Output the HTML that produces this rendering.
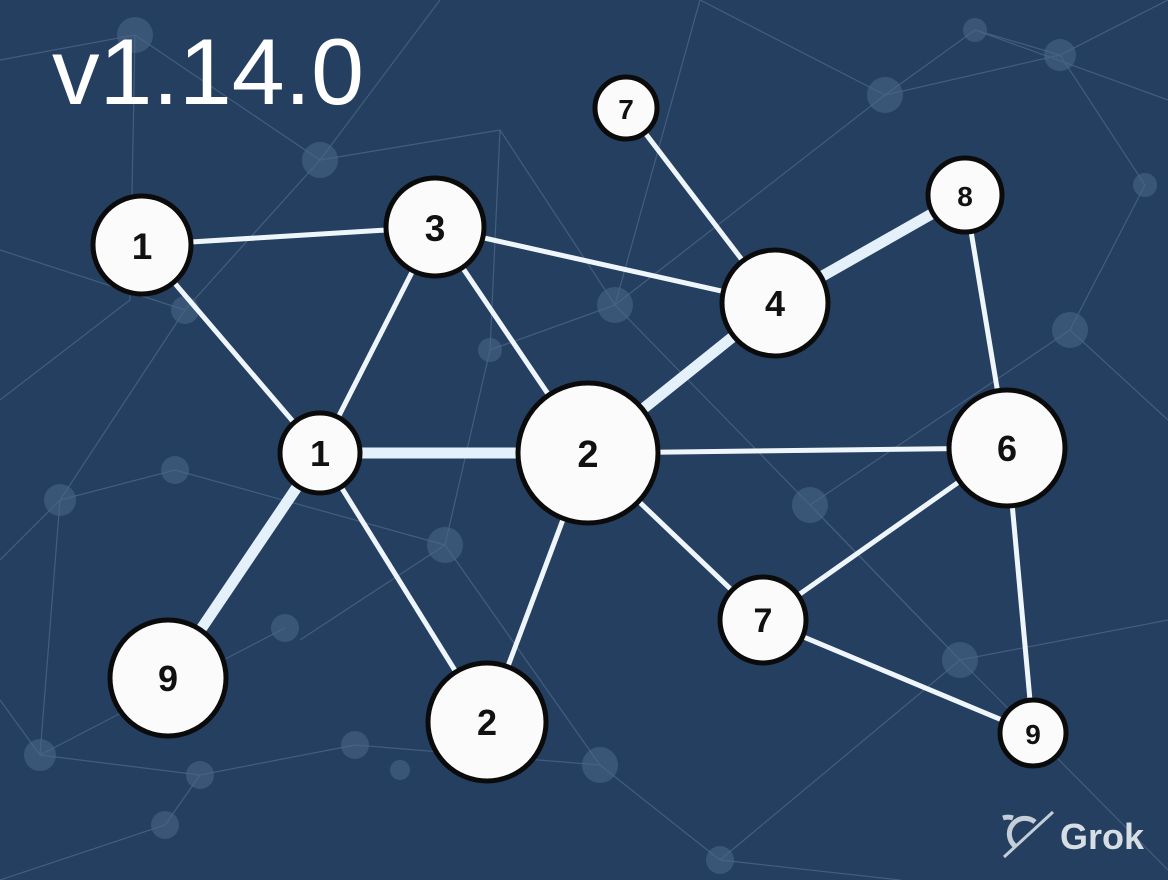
<!DOCTYPE html>
<html><head><meta charset="utf-8"><style>
html,body{margin:0;padding:0;width:1168px;height:880px;overflow:hidden;background:#223b5c}
svg{display:block}
</style></head><body>
<svg width="1168" height="880" viewBox="0 0 1168 880" xmlns="http://www.w3.org/2000/svg">
<rect width="1168" height="880" fill="#253f61"/>
<g stroke="#5a7696" stroke-width="1.2" opacity="0.55" fill="none">
<path d="M0 60 L135 35 L320 160 L440 0"/><path d="M135 35 L130 300 L0 400"/><path d="M320 160 L185 310 L60 500 L0 560"/>
<path d="M320 160 L500 130 L615 305 L700 0"/><path d="M615 305 L490 350 L445 545 L300 640"/><path d="M445 545 L175 470 L60 500"/>
<path d="M885 95 L1060 55 L1168 0"/><path d="M885 95 L975 30 L1168 100"/><path d="M885 95 L615 305"/><path d="M1060 55 L1145 185 L1070 330 L1168 420"/>
<path d="M1070 330 L810 505 L615 305"/><path d="M810 505 L960 660 L1168 620"/><path d="M960 660 L720 860"/><path d="M600 765 L445 545"/>
<path d="M600 765 L355 745 L200 775 L40 755 L0 700"/><path d="M200 775 L165 825 L0 880"/><path d="M600 765 L720 860 L900 880"/>
<path d="M60 500 L40 755"/><path d="M285 628 L40 755"/><path d="M960 660 L1168 870"/><path d="M810 505 L960 660"/><path d="M0 250 L185 310"/>
<path d="M700 0 L885 95"/><path d="M975 30 L1060 55"/><path d="M500 130 L490 350"/>
</g>
<g fill="#4a6586" opacity="0.6">
<circle cx="135" cy="35" r="18"/><circle cx="320" cy="160" r="18"/><circle cx="185" cy="310" r="14"/><circle cx="490" cy="350" r="12"/>
<circle cx="615" cy="305" r="18"/><circle cx="885" cy="95" r="18"/><circle cx="1060" cy="55" r="16"/><circle cx="975" cy="30" r="12"/>
<circle cx="1145" cy="185" r="12"/><circle cx="1070" cy="330" r="18"/><circle cx="810" cy="505" r="18"/><circle cx="445" cy="545" r="18"/>
<circle cx="175" cy="470" r="14"/><circle cx="60" cy="500" r="16"/><circle cx="285" cy="628" r="14"/><circle cx="960" cy="660" r="18"/>
<circle cx="600" cy="765" r="18"/><circle cx="355" cy="745" r="14"/><circle cx="200" cy="775" r="14"/><circle cx="40" cy="755" r="16"/>
<circle cx="165" cy="825" r="14"/><circle cx="720" cy="860" r="14"/><circle cx="400" cy="770" r="10"/>
</g>
<g stroke="#eef6fc" stroke-linecap="butt">
<g stroke-width="5">
<line x1="142" y1="245" x2="435" y2="227"/><line x1="142" y1="245" x2="320" y2="453"/><line x1="435" y1="227" x2="320" y2="453"/>
<line x1="435" y1="227" x2="588" y2="453"/><line x1="435" y1="227" x2="775" y2="303"/><line x1="626" y1="108" x2="775" y2="303"/>
<line x1="320" y1="453" x2="487" y2="722"/><line x1="588" y1="453" x2="487" y2="722"/><line x1="588" y1="453" x2="1007" y2="448"/>
<line x1="588" y1="453" x2="763" y2="620"/><line x1="1007" y1="448" x2="763" y2="620"/><line x1="965" y1="195" x2="1007" y2="448"/>
<line x1="1007" y1="448" x2="1033" y2="733"/><line x1="763" y1="620" x2="1033" y2="733"/>
</g>
<g stroke-width="11" stroke="#e4f1fb">
<line x1="775" y1="303" x2="965" y2="195"/><line x1="775" y1="303" x2="588" y2="453"/>
<line x1="320" y1="453" x2="588" y2="453"/><line x1="320" y1="453" x2="168" y2="678"/>
</g>
</g>
<g fill="#fbfbfb" stroke="#0b0b0b" stroke-width="5">
<circle cx="142" cy="245" r="49"/><circle cx="435" cy="227" r="49"/><circle cx="626" cy="108" r="31"/><circle cx="965" cy="195" r="37"/>
<circle cx="775" cy="303" r="53"/><circle cx="320" cy="453" r="40"/><circle cx="588" cy="453" r="70"/><circle cx="1007" cy="448" r="58"/>
<circle cx="763" cy="620" r="43"/><circle cx="168" cy="678" r="58"/><circle cx="487" cy="722" r="59"/><circle cx="1033" cy="733" r="33"/>
</g>
<g font-family="Liberation Sans, sans-serif" font-weight="bold" fill="#111" text-anchor="middle">
<text x="142" y="259" font-size="37">1</text><text x="435" y="241" font-size="37">3</text><text x="626" y="119" font-size="28">7</text>
<text x="965" y="206" font-size="28">8</text><text x="775" y="316" font-size="36">4</text><text x="320" y="466" font-size="36">1</text>
<text x="588" y="467" font-size="38">2</text><text x="1007" y="461" font-size="36">6</text><text x="763" y="632" font-size="34">7</text>
<text x="168" y="691" font-size="36">9</text><text x="487" y="735" font-size="36">2</text><text x="1033" y="744" font-size="28">9</text>
</g>
<text x="52" y="104" font-family="Liberation Sans, sans-serif" font-size="94" fill="#ffffff" textLength="312" lengthAdjust="spacingAndGlyphs">v1.14.0</text>
<g fill="none" stroke="#d6dde5" stroke-width="5" opacity="0.9">
<path d="M1035 822 a15 15 0 1 0 -20 24"/><path d="M1013 818 a15 15 0 0 0 -10 0"/>
<line x1="1004" y1="857" x2="1053" y2="812" stroke-width="3"/>
</g>
<text x="1060" y="849" font-family="Liberation Sans, sans-serif" font-weight="bold" font-size="36" fill="#d6dde5">Grok</text>
</svg>
</body></html>
